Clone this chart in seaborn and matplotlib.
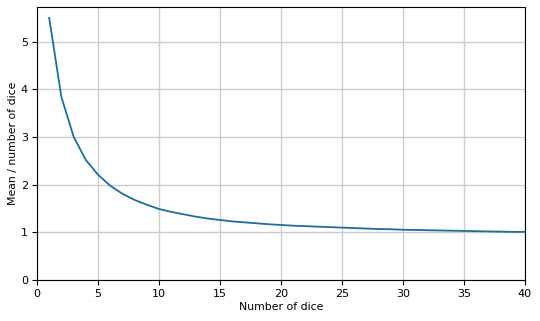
import matplotlib
matplotlib.use("Agg")
import matplotlib.pyplot as plt
import seaborn as sns
import pandas as pd

n_dice = list(range(1, 41))
ratio = [5.50, 3.84, 3.01, 2.52, 2.21, 1.98, 1.81, 1.68, 1.58, 1.49,
         1.43, 1.38, 1.33, 1.29, 1.26, 1.23, 1.21, 1.19, 1.17, 1.155,
         1.14, 1.13, 1.12, 1.11, 1.10, 1.09, 1.08, 1.07, 1.065, 1.055,
         1.05, 1.045, 1.04, 1.035, 1.03, 1.025, 1.02, 1.015, 1.01, 1.01]
x_ticks = [0, 5, 10, 15, 20, 25, 30, 35, 40]
y_ticks = [0, 1, 2, 3, 4, 5]

df = pd.DataFrame({"n": n_dice, "r": ratio})

fig = plt.figure(figsize=(5.4, 3.21), dpi=100)
ax = fig.add_axes([37/540, 1 - 280/321, (525-37)/540, (280-7)/321])
sns.lineplot(data=df, x="n", y="r", ax=ax, color="#1f6e9a", linewidth=1.3)
ax.set_xlim(0, 40)
ax.set_ylim(0, 5.73)
ax.set_xticks(x_ticks)
ax.set_yticks(y_ticks)
ax.grid(True, color="#cccccc", linewidth=1.0)
ax.set_axisbelow(True)
ax.tick_params(labelsize=8, length=3.5, pad=3)
ax.set_xlabel("Number of dice", fontsize=7.8, labelpad=2)
ax.set_ylabel("Mean / number of dice", fontsize=7.8, labelpad=2)
for s in ax.spines.values():
    s.set_color("black")
    s.set_linewidth(0.8)
fig.savefig("out.png", dpi=100)
